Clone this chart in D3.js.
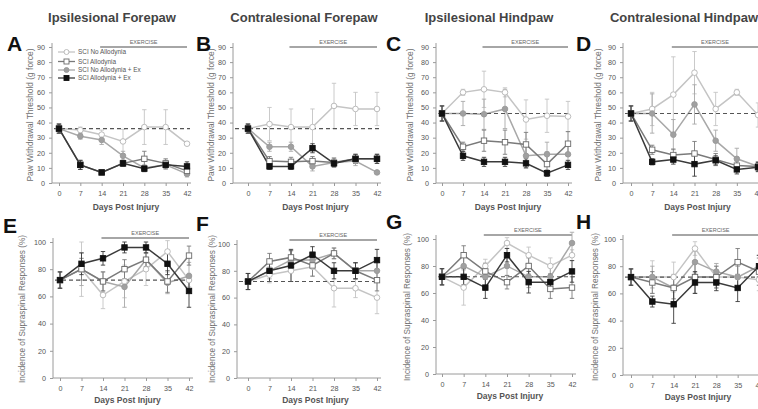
<!DOCTYPE html>
<html>
<head>
<meta charset="utf-8">
<script src="https://cdn.jsdelivr.net/npm/d3@7/dist/d3.min.js"></script>
<style>
  body { margin: 0; background: #fff; }
  svg { display: block; font-family: Arial, "Liberation Sans", sans-serif; }
</style>
</head>
<body>
<svg id="chart" width="758" height="409"></svg>
<script>
// Mechanical thresholds (A-D) and supraspinal responses (E-H)
const days = [0, 7, 14, 21, 28, 35, 42];
const seriesNames = ['SCI No Allodynia', 'SCI Allodynia', 'SCI No Allodynia + Ex', 'SCI Allodynia + Ex'];
const titles = ['Ipsilesional Forepaw', 'Contralesional Forepaw', 'Ipsilesional Hindpaw', 'Contralesional Hindpaw'];
const letters = ['A', 'B', 'C', 'D', 'E', 'F', 'G', 'H'];
const thresholdTicks = [0, 10, 20, 30, 40, 50, 60, 70, 80, 90];
const responseTicks = [0, 20, 40, 60, 80, 100];
const baselines = [36, 36, 46, 46, 72, 72, 72, 72];
const exerciseDays = [13.5, 42];

// rows follow seriesNames
const valuesA = [[36, 35, 32, 27.5, 37, 37, 26], [36, 12, 7, 13, 16, 13, 8], [36, 31, 28.5, 18, 10, 12, 6], [36, 12, 7, 13, 9.5, 12, 11]];
const errorsA = [[3, 2, 3, 8, 11.5, 11.5, 1], [3, 3, 1, 2, 5, 3, 3], [3, 2, 3, 3, 2, 3, 2], [3, 3, 1, 2, 2, 2, 3]];
const valuesB = [[36, 39, 37, 37, 51, 49, 49], [36, 14.5, 14, 14.5, 13.5, 16, 16], [36, 24, 24, 11, 13.5, 14.5, 7], [36, 11, 11, 23, 13, 16, 16]];
const errorsB = [[3, 11, 12, 12, 15, 11, 11], [3, 3, 3, 3, 3, 3, 3], [3, 3, 3, 3, 3, 3, 1], [3, 2, 2, 3, 2, 3, 3]];
const valuesC = [[46, 60, 62, 60, 42, 44.5, 44], [46, 24, 28, 27, 25.5, 12.5, 26], [46, 46, 45.5, 49, 18, 19, 19], [46, 18, 14, 14, 13, 6.5, 12]];
const errorsC = [[5, 2, 12, 3, 13, 11, 10], [5, 3, 7, 8, 8, 8, 8], [5, 8, 10, 13, 8, 8, 8], [5, 3, 3, 3, 3, 2, 3]];
const valuesD = [[46, 49, 58.5, 73, 49, 60, 45], [46, 22, 18.5, 19.5, 15.5, 11.5, 11], [46, 46, 32, 52, 28, 16, 11], [46, 14, 15.5, 12.5, 15, 9, 10.5]];
const errorsD = [[5, 11, 25, 14, 11, 2, 8], [5, 3, 4, 8, 4, 3, 3], [5, 13, 10, 13, 7, 7, 3], [5, 2, 3, 8, 3, 3, 3]];
const valuesE = [[72, 80, 61, 71, 80, 93, 72], [72, 80, 71, 80, 87, 71, 90], [72, 80, 71, 67, 87, 70, 75], [72, 84, 88, 96, 96, 84, 64]];
const errorsE = [[6, 20, 10, 12, 12, 8, 5], [6, 8, 7, 7, 5, 8, 7], [6, 12, 7, 15, 8, 8, 10], [6, 8, 5, 4, 4, 8, 12]];
const valuesF = [[72, 77, 80, 83, 67, 67, 60], [72, 87, 90, 84, 93, 80, 73], [72, 80, 88, 88, 93, 80, 80], [72, 80, 84, 92, 80, 80, 88]];
const errorsF = [[6, 6, 8, 7, 14, 7, 12], [6, 6, 5, 8, 4, 6, 8], [6, 6, 7, 6, 4, 6, 6], [6, 8, 12, 6, 6, 6, 8]];
const valuesG = [[72, 64, 80, 97, 88, 80, 88], [72, 88, 76, 68, 80, 63, 64], [72, 80, 72, 80, 72, 72, 97], [72, 72, 64, 88, 68, 68, 76]];
const errorsG = [[6, 13, 5, 4, 6, 6, 4], [6, 7, 6, 5, 6, 7, 8], [6, 10, 10, 7, 8, 8, 8], [6, 6, 8, 5, 8, 6, 8]];
const valuesH = [[72, 72, 72, 93, 72, 72, 70], [72, 68, 64, 72, 72, 83, 76], [72, 72, 64, 83, 76, 72, 80], [72, 54, 52, 68, 68, 64, 80]];
const errorsH = [[6, 12, 11, 5, 8, 8, 8], [6, 8, 8, 12, 8, 10, 10], [6, 8, 10, 8, 6, 8, 8], [6, 4, 14, 8, 6, 10, 8]];

const allValues = [valuesA, valuesB, valuesC, valuesD, valuesE, valuesF, valuesG, valuesH];
const allErrors = [errorsA, errorsB, errorsC, errorsD, errorsE, errorsF, errorsG, errorsH];

const svg = d3.select('#chart');

// series look: line colour, marker shape, marker fill
const styles = [
  { line: '#c4c4c4', stroke: '#b4b4b4', fill: '#fff', shape: 'circle' },
  { line: '#7a7a7a', stroke: '#6a6a6a', fill: '#fff', shape: 'square' },
  { line: '#a8a8a8', stroke: '#9a9a9a', fill: '#a0a0a0', shape: 'circle' },
  { line: '#3a3a3a', stroke: '#111', fill: '#111', shape: 'square' }
];
const drawOrder = [0, 2, 1, 3];

// panel frames, in pixels
const frames = [
  { axisX: 52, x0: 59, x1: 187, yTop: 47, yBot: 183, lx: 7, ly: 51, labX: 33, labY: 115 },
  { axisX: 233, x0: 248, x1: 377, yTop: 47, yBot: 183, lx: 196, ly: 51, labX: 214, labY: 115 },
  { axisX: 436, x0: 442, x1: 568, yTop: 47, yBot: 183, lx: 386, ly: 51, labX: 413, labY: 115 },
  { axisX: 623, x0: 631, x1: 758, yTop: 47, yBot: 183, lx: 576, ly: 51, labX: 601, labY: 115 },
  { axisX: 53, x0: 60, x1: 189, yTop: 242, yBot: 378, lx: 3, ly: 233, labX: 25, labY: 309 },
  { axisX: 237, x0: 248, x1: 377, yTop: 244, yBot: 378, lx: 196, ly: 231, labX: 215, labY: 309 },
  { axisX: 436, x0: 442, x1: 572, yTop: 239, yBot: 374, lx: 386, ly: 229, labX: 410, labY: 307 },
  { axisX: 623, x0: 631, x1: 759, yTop: 239, yBot: 375, lx: 576, ly: 229, labX: 598, labY: 307 }
];
const titleX = [112, 304, 489, 684];

frames.forEach((f, p) => {
  const top = p < 4;
  const yMax = top ? 90 : 100;
  const ticks = top ? thresholdTicks : responseTicks;
  const x = d3.scaleLinear().domain([0, 42]).range([f.x0, f.x1]);
  const y = d3.scaleLinear().domain([0, yMax]).range([f.yBot, f.yTop]);
  const g = svg.append('g');

  // axes
  const yAxis = g.append('g')
    .attr('transform', `translate(${f.axisX},0)`)
    .call(d3.axisLeft(y).tickValues(ticks).tickSize(3).tickPadding(4));
  const xAxis = g.append('g')
    .attr('transform', `translate(0,${f.yBot})`)
    .call(d3.axisBottom(x).tickValues(days).tickSize(3).tickPadding(5));
  xAxis.select('.domain').attr('d', `M${f.axisX},0H${f.x1 + 4}`);
  yAxis.select('.domain').attr('d', `M0,${f.yBot}V${f.yTop - 4}`);
  [xAxis, yAxis].forEach(a => {
    a.selectAll('.domain, line').attr('stroke', '#9a9a9a');
    a.selectAll('text').attr('fill', '#555').attr('font-size', 7.2);
  });

  // labels
  g.append('text')
    .attr('x', (f.x0 + f.x1) / 2 + 3).attr('y', f.yBot + (top ? 27 : 25))
    .attr('text-anchor', 'middle').attr('font-size', 8.5).attr('font-weight', 'bold')
    .attr('fill', '#555').text('Days Post Injury');
  g.append('text')
    .attr('transform', `translate(${f.labX},${f.labY}) rotate(-90)`)
    .attr('text-anchor', 'middle').attr('font-size', top ? 8.4 : 8.2).attr('fill', '#707070')
    .text(top ? 'Paw Withdrawal Threshold (g force)' : 'Incidence of Supraspinal Responses (%)');
  g.append('text')
    .attr('x', f.lx).attr('y', f.ly)
    .attr('font-size', 21).attr('font-weight', 'bold').attr('fill', '#111')
    .text(letters[p]);
  if (top) {
    g.append('text')
      .attr('x', titleX[p]).attr('y', 22)
      .attr('text-anchor', 'middle').attr('font-size', 13).attr('font-weight', 'bold')
      .attr('fill', '#444').text(titles[p]);
  }

  // exercise bar
  const ey = f.yTop - (top ? 0 : 4);
  g.append('line')
    .attr('x1', x(exerciseDays[0])).attr('x2', x(exerciseDays[1]))
    .attr('y1', ey).attr('y2', ey)
    .attr('stroke', '#888').attr('stroke-width', 1.3);
  g.append('text')
    .attr('x', x((exerciseDays[0] + exerciseDays[1]) / 2)).attr('y', ey - 3)
    .attr('text-anchor', 'middle').attr('font-size', 5.5).attr('fill', '#666')
    .text('EXERCISE');

  const vals = allValues[p];
  const errs = allErrors[p];

  // error bars
  drawOrder.forEach(s => {
    const st = styles[s];
    days.forEach((d, i) => {
      const v = vals[s][i], e = errs[s][i];
      const eb = g.append('g').attr('stroke', st.line).attr('stroke-width', 0.9);
      eb.append('line').attr('x1', x(d)).attr('x2', x(d)).attr('y1', y(v - e)).attr('y2', y(v + e));
      eb.append('line').attr('x1', x(d) - 2.2).attr('x2', x(d) + 2.2).attr('y1', y(v + e)).attr('y2', y(v + e));
      eb.append('line').attr('x1', x(d) - 2.2).attr('x2', x(d) + 2.2).attr('y1', y(v - e)).attr('y2', y(v - e));
    });
  });

  // lines
  const line = d3.line().x((v, i) => x(days[i])).y(v => y(v));
  drawOrder.forEach(s => {
    g.append('path').attr('d', line(vals[s]))
      .attr('fill', 'none').attr('stroke', styles[s].line).attr('stroke-width', 1.5);
  });

  // baseline
  g.append('line')
    .attr('x1', f.axisX + 2).attr('x2', f.x1 + 3)
    .attr('y1', y(baselines[p])).attr('y2', y(baselines[p]))
    .attr('stroke', '#555').attr('stroke-width', 1.1).attr('stroke-dasharray', '4,3');

  // markers
  drawOrder.forEach(s => {
    const st = styles[s];
    days.forEach((d, i) => {
      const cx = x(d), cy = y(vals[s][i]);
      if (st.shape === 'circle') {
        g.append('circle').attr('cx', cx).attr('cy', cy).attr('r', 2.8)
          .attr('fill', st.fill).attr('stroke', st.stroke).attr('stroke-width', 0.9);
      } else {
        g.append('rect').attr('x', cx - 2.7).attr('y', cy - 2.7).attr('width', 5.4).attr('height', 5.4)
          .attr('fill', st.fill).attr('stroke', st.stroke).attr('stroke-width', 0.9);
      }
    });
  });

  // legend in first panel
  if (p === 0) {
    const legendY = [52, 61.5, 70, 78];
    seriesNames.forEach((name, s) => {
      const st = styles[s];
      const ly = legendY[s];
      g.append('line').attr('x1', 58).attr('x2', 75).attr('y1', ly).attr('y2', ly)
        .attr('stroke', st.line).attr('stroke-width', 1.3);
      if (st.shape === 'circle') {
        g.append('circle').attr('cx', 66.5).attr('cy', ly).attr('r', 2.5)
          .attr('fill', st.fill).attr('stroke', st.stroke).attr('stroke-width', 0.9);
      } else {
        g.append('rect').attr('x', 64).attr('y', ly - 2.5).attr('width', 5).attr('height', 5)
          .attr('fill', st.fill).attr('stroke', st.stroke).attr('stroke-width', 0.9);
      }
      g.append('text').attr('x', 78).attr('y', ly + 2.3)
        .attr('font-size', 6.4).attr('fill', '#555').text(name);
    });
  }
});
</script>
</body>
</html>
